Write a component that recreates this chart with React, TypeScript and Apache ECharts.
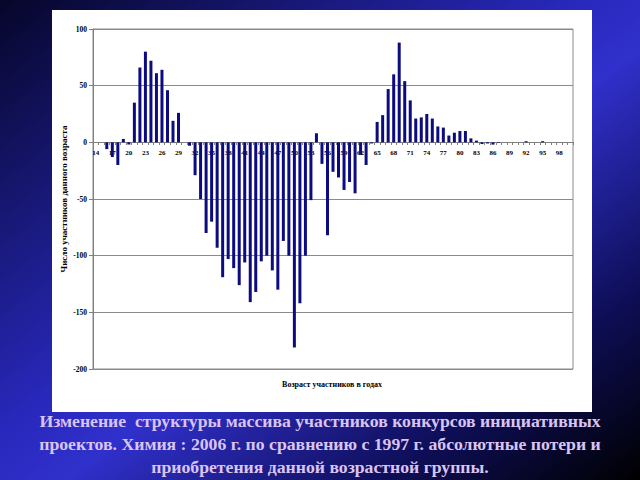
import React, { useEffect, useRef } from "react";
import * as echarts from "echarts";

const ages: string[] = [
  "14", "15", "16", "17", "18", "19", "20", "21", "22", "23",
  "24", "25", "26", "27", "28", "29", "30", "31", "32", "33",
  "34", "35", "36", "37", "38", "39", "40", "41", "42", "43",
  "44", "45", "46", "47", "48", "49", "50", "51", "52", "53",
  "54", "55", "56", "57", "58", "59", "60", "61", "62", "63",
  "64", "65", "66", "67", "68", "69", "70", "71", "72", "73",
  "74", "75", "76", "77", "78", "79", "80", "81", "82", "83",
  "84", "85", "86", "87", "88", "89", "90", "91", "92", "93",
  "94", "95", "96", "97", "98", "99", "100",
];

const changeValues: number[] = [
  0, 0, -6, -13, -20, 3, -2, 35, 66, 80,
  72, 61, 64, 46, 19, 26, 0, -3, -29, -50,
  -80, -70, -93, -119, -103, -111, -126, -106, -141, -132,
  -105, -100, -113, -130, -87, -100, -181, -142, -100, -51,
  8, -19, -82, -26, -31, -42, -35, -45, -11, -20,
  -1, 18, 24, 47, 60, 88, 54, 37, 21, 22,
  25, 21, 14, 13, 6, 8.5, 10, 10, 3.5, 1.5,
  -1.5, -1, -2, -0.5, 0, 0, 0, 0, 1, 0,
  0, 1, 0, 0, 0, 0, 0,
];

const yAxisTitle = "Число участников данного возраста";
const xAxisTitle = "Возраст участников в годах";
const captionLines: string[] = [
  "Изменение  структуры массива участников конкурсов инициативных",
  "проектов. Химия : 2006 г. по сравнению с 1997 г. абсолютные потери и",
  "приобретения данной возрастной группы.",
];

export default function App() {
  const ref = useRef<HTMLDivElement>(null);
  useEffect(() => {
    if (!ref.current) return;
    const chart = echarts.init(ref.current, undefined, { renderer: "svg" });
    const serif = '"Liberation Serif", "Times New Roman", serif';
    chart.setOption({
      animation: false,
      graphic: [
        {
          type: "rect",
          z: -20,
          shape: { x: 0, y: 0, width: 640, height: 480 },
          style: {
            fill: new echarts.graphic.LinearGradient(0, 0, 1, 1, [
              { offset: 0, color: "#06062a" },
              { offset: 0.45, color: "#2828bc" },
              { offset: 0.55, color: "#3030cc" },
              { offset: 0.8, color: "#0e0e58" },
              { offset: 1, color: "#000000" },
            ]),
          },
        },
        {
          type: "rect",
          z: -19,
          shape: { x: 52, y: 10, width: 540, height: 402 },
          style: { fill: "#ffffff" },
        },
        {
          type: "text",
          z: 10,
          x: 64,
          y: 199,
          rotation: Math.PI / 2,
          style: {
            text: yAxisTitle,
            align: "center",
            verticalAlign: "middle",
            fontFamily: serif,
            fontWeight: "bold",
            fontSize: 9,
            fill: "#000",
          },
        },
        {
          type: "text",
          z: 10,
          x: 332,
          y: 384,
          style: {
            text: xAxisTitle,
            align: "center",
            verticalAlign: "middle",
            fontFamily: serif,
            fontWeight: "bold",
            fontSize: 8,
            fill: "#000",
          },
        },
        ...captionLines.map((t, i) => ({
          type: "text",
          z: 10,
          x: 320,
          y: 421 + i * 23,
          style: {
            text: t,
            align: "center",
            verticalAlign: "middle",
            fontFamily: serif,
            fontWeight: "bold",
            fontSize: 17.7,
            fill: "#dac4f4",
          },
        })),
      ],
      grid: {
        left: 93,
        right: 67,
        top: 29,
        bottom: 111,
        show: true,
        borderColor: "#8a8a8a",
        borderWidth: 1,
        backgroundColor: "transparent",
      },
      xAxis: {
        type: "category",
        data: ages,
        position: "bottom",
        offset: -227,
        axisLine: { onZero: false, lineStyle: { color: "#808080", width: 1 } },
        axisTick: { show: true, interval: 0, length: 3, lineStyle: { color: "#808080" } },
        axisLabel: {
          interval: 2,
          fontSize: 7,
          fontFamily: serif,
          fontWeight: "bold",
          color: "#000",
          margin: 7,
        },
        splitLine: { show: false },
      },
      yAxis: {
        type: "value",
        min: -200,
        max: 100,
        interval: 50,
        axisLine: { show: true, lineStyle: { color: "#808080" } },
        axisTick: { show: true, length: 4, lineStyle: { color: "#808080" } },
        axisLabel: {
          fontSize: 7.5,
          fontFamily: serif,
          fontWeight: "bold",
          color: "#000",
          margin: 6,
        },
        splitLine: { show: true, lineStyle: { color: "#8a8a8a", width: 1 } },
      },
      series: [
        {
          type: "bar",
          data: changeValues,
          barWidth: 3,
          itemStyle: { color: "#0c0c80" },
        },
      ],
    });
    return () => chart.dispose();
  }, []);
  return (
    <div
      ref={ref}
      style={{ position: "absolute", left: 0, top: 0, width: 640, height: 480 }}
    />
  );
}
